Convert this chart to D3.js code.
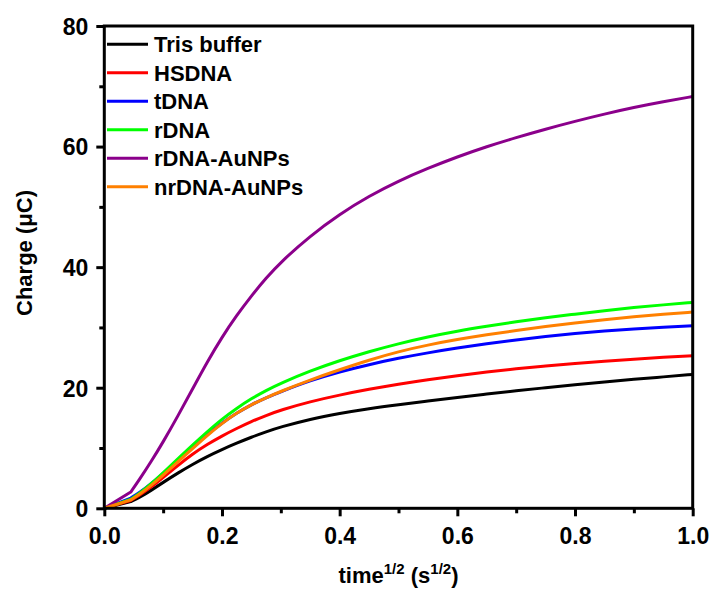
<!DOCTYPE html>
<html>
<head>
<meta charset="utf-8">
<script src="https://cdn.jsdelivr.net/npm/d3@7"></script>
<style>
  html, body { margin: 0; padding: 0; background: #fff; }
  svg { display: block; }
  text { font-family: "Liberation Sans", Arial, sans-serif; font-weight: bold; fill: #000; }
</style>
</head>
<body>
<svg id="chart" width="710" height="594"></svg>
<script>
// sqrt(time) sample positions shared by every series
const timeRoot = [0, 0.045, 0.06, 0.08, 0.1, 0.125, 0.15, 0.175, 0.2, 0.225, 0.25, 0.275, 0.3, 0.35, 0.4, 0.45, 0.5,
                  0.55, 0.6, 0.65, 0.7, 0.75, 0.8, 0.85, 0.9, 0.95, 1.0];

// charge (µC) for each sample
const trisBuffer = [0, 1.1, 1.8, 3.0, 4.3, 5.85, 7.3, 8.6, 9.75, 10.8, 11.8, 12.7, 13.5, 14.8, 15.75, 16.55, 17.2,
                    17.8, 18.4, 18.95, 19.5, 20.0, 20.5, 20.97, 21.4, 21.8, 22.2];
const hsDNA      = [0, 1.3, 2.2, 3.5, 5.1, 7.1, 9.0, 10.6, 12.0, 13.25, 14.4, 15.4, 16.3, 17.7, 18.8, 19.75, 20.6,
                    21.35, 22.0, 22.6, 23.15, 23.6, 24.05, 24.4, 24.75, 25.05, 25.3];
const tDNA       = [0, 1.7, 2.6, 4.1, 5.8, 8.0, 10.2, 12.25, 14.15, 15.8, 17.2, 18.35, 19.35, 21.2, 22.65, 23.85, 24.9,
                    25.8, 26.6, 27.3, 27.95, 28.5, 29.0, 29.4, 29.75, 30.05, 30.3];
const rDNA       = [0, 1.5, 2.5, 4.1, 5.9, 8.2, 10.5, 12.7, 14.8, 16.6, 18.2, 19.55, 20.75, 22.8, 24.5, 26.0, 27.3,
                    28.45, 29.4, 30.2, 30.95, 31.6, 32.2, 32.8, 33.3, 33.75, 34.15];
const rDNAAuNPs  = [0, 2.7, 4.8, 7.8, 11.0, 15.3, 19.8, 24.3, 28.4, 32.0, 35.25, 38.2, 40.85, 45.2, 48.8, 51.8, 54.3,
                    56.4, 58.3, 60.0, 61.5, 62.9, 64.2, 65.4, 66.5, 67.45, 68.3];
const nrDNAAuNPs = [0, 1.4, 2.3, 3.8, 5.5, 7.7, 9.9, 12.1, 14.1, 15.8, 17.2, 18.35, 19.4, 21.3, 23.0, 24.6, 26.0,
                    27.1, 28.0, 28.8, 29.5, 30.15, 30.75, 31.3, 31.8, 32.2, 32.55];

const seriesNames  = ["Tris buffer", "HSDNA", "tDNA", "rDNA", "rDNA-AuNPs", "nrDNA-AuNPs"];
const seriesValues = [trisBuffer, hsDNA, tDNA, rDNA, rDNAAuNPs, nrDNAAuNPs];
const seriesColors = ["#000000", "#ff0000", "#0000ff", "#00ff00", "#8b008b", "#ff8000"];

const xMajor = [0, 0.2, 0.4, 0.6, 0.8, 1.0];
const xMinor = [0.1, 0.3, 0.5, 0.7, 0.9];
const yMajor = [0, 20, 40, 60, 80];
const yMinor = [10, 30, 50, 70];

const svg = d3.select("#chart");
const box = { left: 104.3, right: 692.7, top: 26, bottom: 508.3 };

const x = d3.scaleLinear().domain([0, 1]).range([box.left, box.right]);
const y = d3.scaleLinear().domain([0, 80]).range([box.bottom, box.top]);

// straight rise to the first sample, then a smoothed B-spline through the rest
const smooth = d3.line()
  .x(d => x(d[0]))
  .y(d => y(d[1]))
  .curve(d3.curveBasis);

const plot = svg.append("g");
seriesValues.forEach((vals, i) => {
  const pts = timeRoot.map((t, k) => [t, vals[k]]);
  const tail = smooth(pts.slice(1)).replace(/^M/, "L");
  plot.append("path")
    .attr("fill", "none")
    .attr("stroke", seriesColors[i])
    .attr("stroke-width", 3)
    .attr("stroke-linejoin", "round")
    .attr("d", `M${x(pts[0][0])},${y(pts[0][1])}` + tail);
});

// frame
svg.append("rect")
  .attr("x", box.left).attr("y", box.top)
  .attr("width", box.right - box.left).attr("height", box.bottom - box.top)
  .attr("fill", "none").attr("stroke", "#000").attr("stroke-width", 3);

// x axis
const xAxis = svg.append("g").attr("transform", `translate(0,${box.bottom})`)
  .call(d3.axisBottom(x).tickValues(xMajor).tickSizeInner(8).tickSizeOuter(0).tickFormat(d3.format(".1f")));
const xAxisMinor = svg.append("g").attr("transform", `translate(0,${box.bottom})`)
  .call(d3.axisBottom(x).tickValues(xMinor).tickSizeInner(5).tickSizeOuter(0).tickFormat(""));
[xAxis, xAxisMinor].forEach(g => {
  g.select(".domain").remove();
  g.selectAll("line").attr("stroke", "#000").attr("stroke-width", 3);
});
xAxis.selectAll("text")
  .attr("y", 36).attr("dy", null)
  .style("font-size", "23px")
  .style("font-family", "'Liberation Sans', Arial, sans-serif")
  .style("font-weight", "bold")
  .attr("fill", "#000");

// y axis
const yAxis = svg.append("g").attr("transform", `translate(${box.left},0)`)
  .call(d3.axisLeft(y).tickValues(yMajor).tickSizeInner(8).tickSizeOuter(0).tickFormat(d3.format("d")));
const yAxisMinor = svg.append("g").attr("transform", `translate(${box.left},0)`)
  .call(d3.axisLeft(y).tickValues(yMinor).tickSizeInner(5).tickSizeOuter(0).tickFormat(""));
[yAxis, yAxisMinor].forEach(g => {
  g.select(".domain").remove();
  g.selectAll("line").attr("stroke", "#000").attr("stroke-width", 3);
});
yAxis.selectAll("text")
  .attr("x", -16).attr("dy", "0.36em")
  .style("font-size", "23px")
  .style("font-family", "'Liberation Sans', Arial, sans-serif")
  .style("font-weight", "bold")
  .attr("fill", "#000");

// axis titles
const xTitle = svg.append("text")
  .attr("x", (box.left + box.right) / 2).attr("y", 583)
  .attr("text-anchor", "middle")
  .style("font-size", "22px");
xTitle.append("tspan").text("time");
xTitle.append("tspan").attr("dy", -9).style("font-size", "15px").text("1/2");
xTitle.append("tspan").attr("dy", 9).text(" (s");
xTitle.append("tspan").attr("dy", -9).style("font-size", "15px").text("1/2");
xTitle.append("tspan").attr("dy", 9).text(")");

svg.append("text")
  .attr("transform", "translate(32,253) rotate(-90)")
  .attr("text-anchor", "middle")
  .style("font-size", "22px")
  .text("Charge (μC)");

// legend
const legend = svg.append("g");
seriesNames.forEach((name, i) => {
  const ly = 44.3 + i * 28.5;
  legend.append("line")
    .attr("x1", 107).attr("x2", 148)
    .attr("y1", ly).attr("y2", ly)
    .attr("stroke", seriesColors[i]).attr("stroke-width", 3);
  legend.append("text")
    .attr("x", 154).attr("y", ly).attr("dy", "0.36em")
    .style("font-size", "22px")
    .text(name);
});
</script>
</body>
</html>
